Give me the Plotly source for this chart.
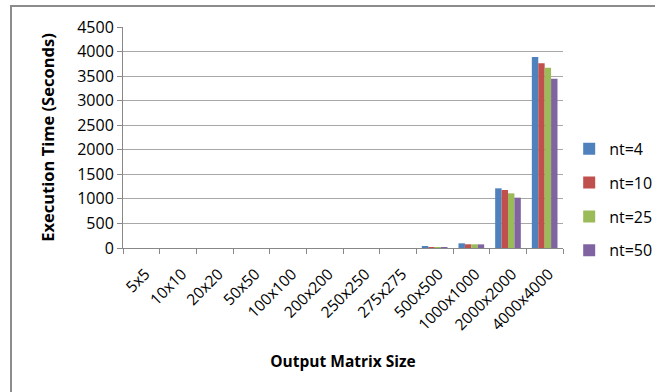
import plotly.graph_objects as go

categories = ["5x5", "10x10", "20x20", "50x50", "100x100", "200x200", "250x250",
              "275x275", "500x500", "1000x1000", "2000x2000", "4000x4000"]
series_names = ["nt=4", "nt=10", "nt=25", "nt=50"]
nt4 = [0.01, 0.01, 0.02, 0.03, 0.05, 0.08, 0.09, 0.1, 22, 95, 1215, 3889]
nt10 = [0.01, 0.01, 0.02, 0.03, 0.05, 0.08, 0.09, 0.1, 20, 76, 1181, 3761]
nt25 = [0.01, 0.01, 0.02, 0.03, 0.05, 0.07, 0.09, 0.1, 20, 75, 1113, 3672]
nt50 = [0.01, 0.01, 0.02, 0.03, 0.05, 0.07, 0.09, 0.1, 19, 74, 1025, 3448]
colors = ["#4F81BD", "#C0504D", "#9BBB59", "#8064A2"]
y_ticks = [0, 500, 1000, 1500, 2000, 2500, 3000, 3500, 4000, 4500]

FONT = "Open Sans, Liberation Sans, sans-serif"

fig = go.Figure()
for i, (name, vals) in enumerate(zip(series_names, [nt4, nt10, nt25, nt50])):
    fig.add_trace(go.Bar(x=categories, y=vals, name=name,
                         marker=dict(color=colors[i], line=dict(width=0)),
                         legendgroup=name))

fig.update_layout(
    width=655, height=392,
    margin=dict(l=123, r=92, t=27, b=144, autoexpand=False),
    paper_bgcolor="white", plot_bgcolor="white",
    barmode="group", bargap=0.3, bargroupgap=0,
    font=dict(family=FONT, size=16, color="#000"),
    legend=dict(xref="container", yref="container", x=0.869, y=0.49,
                xanchor="left", yanchor="middle",
                font=dict(size=16), tracegroupgap=10,
                itemwidth=30, bgcolor="rgba(0,0,0,0)"),
    xaxis=dict(type="category", tickangle=-45, tickson="boundaries",
               ticks="outside", ticklen=5, tickcolor="#888", automargin=False,
               showline=True, linecolor="#888", linewidth=1,
               showgrid=False, tickfont=dict(size=15.5),
               ticklabelstandoff=10, ticklabelshift=4,
               title=dict(text="<b>Output Matrix Size</b>", font=dict(size=15.5),
                          standoff=22)),
    yaxis=dict(range=[0, 4500], tickvals=y_ticks, ticks="outside", ticklen=5,
               tickcolor="#888", showline=True, linecolor="#888", linewidth=1,
               showgrid=True, gridcolor="#a8a8a8", gridwidth=1, automargin=False,
               zeroline=False, tickfont=dict(size=16),
               title=dict(text="<b>Execution Time (Seconds)</b>", font=dict(size=16.5),
                          standoff=18)),
    shapes=[dict(type="rect", xref="paper", yref="paper",
                 x0=(11 - 123) / 440, x1=(700 - 123) / 440,
                 y0=(248 - 420) / 221, y1=(248 - 6) / 221,
                 line=dict(color="#8c8c8c", width=2), layer="below")],
)

fig.write_html("out.html")
